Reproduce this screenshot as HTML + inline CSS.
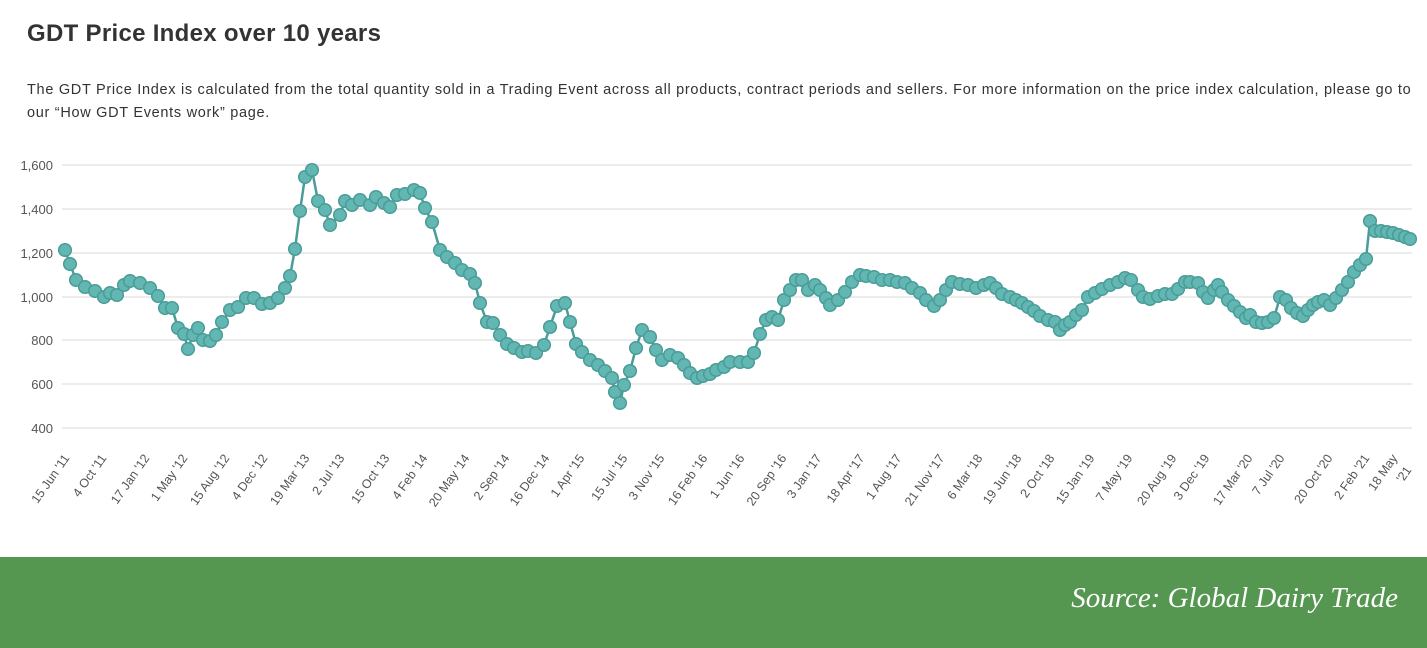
<!DOCTYPE html>
<html><head><meta charset="utf-8"><style>
body{margin:0;width:1427px;height:648px;background:#fff;overflow:hidden;font-family:"Liberation Sans",sans-serif;position:relative}
.t{position:absolute;left:27px;top:20px;font-size:24px;font-weight:bold;color:#333;letter-spacing:0.3px}
.d{position:absolute;left:27px;top:79px;width:1400px;font-size:14.5px;line-height:23px;color:#333;letter-spacing:0.7px;white-space:nowrap}
.f{position:absolute;left:0;top:557px;width:1427px;height:91px;background:#559650}
.f span{position:absolute;right:29px;top:25px;font-family:"Liberation Serif",serif;font-style:italic;font-size:29px;color:#fff}
svg{position:absolute;left:0;top:0}
</style></head><body>
<div class="t">GDT Price Index over 10 years</div>
<div class="d">The GDT Price Index is calculated from the total quantity sold in a Trading Event across all products, contract periods and sellers. For more information on the price index calculation, please go to<br>our “How GDT Events work” page.</div>
<svg width="1427" height="557" id="s"></svg>
<div class="f"><span>Source: Global Dairy Trade</span></div>
<script>
var s=document.getElementById('s'),h='';
var ys=[[1600,165],[1400,209],[1200,253],[1000,297],[800,340],[600,384],[400,428]];
ys.forEach(function(a){h+='<line x1="62" x2="1412" y1="'+a[1]+'" y2="'+a[1]+'" stroke="#e6e6e6" stroke-width="1.5"/>';
h+='<text x="53" y="'+(a[1]+5)+'" text-anchor="end" font-size="13" fill="#555">'+a[0].toLocaleString('en-US')+'</text>';});
var p=[65,250,70,264,76,280,85,287,95,291,104,297,110,293,117,295,124,285,130,281,140,283,150,288,158,296,165,308,172,308,178,328,184,334,188,349,193,335,198,328,203,340,210,341,216,335,222,322,230,310,238,307,246,298,254,298,262,304,270,303,278,298,285,288,290,276,295,249,300,211,305,177,312,170,318,201,325,210,330,225,340,215,345,201,352,205,360,200,370,205,376,197,384,203,390,207,397,195,405,194,414,190,420,193,425,208,432,222,440,250,447,257,455,263,462,270,470,274,475,283,480,303,487,322,493,323,500,335,507,344,514,348,522,352,528,351,536,353,544,345,550,327,557,306,565,303,570,322,576,344,582,352,590,360,598,365,605,371,612,378,615,392,620,403,624,385,630,371,636,348,642,330,650,337,656,350,662,360,670,355,678,358,684,365,690,373,697,378,703,376,710,374,716,370,724,367,730,362,740,362,748,362,754,353,760,334,766,320,772,317,778,320,784,300,790,290,796,280,802,280,808,290,815,285,820,290,826,298,830,305,838,300,845,292,852,282,860,275,866,276,874,277,882,280,890,280,897,282,905,283,912,288,920,293,926,300,934,306,940,300,946,290,952,282,960,284,968,285,976,288,984,285,990,283,996,288,1002,294,1010,297,1016,300,1022,303,1028,307,1034,311,1040,316,1048,320,1055,322,1060,330,1065,325,1070,322,1076,315,1082,310,1088,297,1095,293,1102,289,1110,285,1118,282,1125,278,1131,280,1138,290,1143,297,1150,299,1158,296,1165,294,1172,294,1178,289,1185,282,1190,282,1198,283,1203,292,1208,298,1214,290,1218,285,1222,292,1228,300,1234,306,1240,312,1246,318,1250,315,1256,322,1262,323,1268,322,1274,318,1280,297,1286,300,1291,308,1297,313,1303,316,1308,310,1313,305,1318,302,1324,300,1330,305,1336,298,1342,290,1348,282,1354,272,1360,265,1366,259,1370,221,1375,231,1381,231,1387,232,1393,233,1399,235,1405,237,1410,239];
var pts='';for(var i=0;i<p.length;i+=2)pts+=p[i]+','+p[i+1]+' ';
h+='<polyline points="'+pts+'" fill="none" stroke="#4a9c98" stroke-width="2.5"/>';
for(var i=0;i<p.length;i+=2)h+='<circle cx="'+p[i]+'" cy="'+p[i+1]+'" r="6.3" fill="#62b7b3" stroke="#4a9c98" stroke-width="1.5"/>';
var L=[[70,"15 Jun '11"],[107,"4 Oct '11"],[150,"17 Jan '12"],[188,"1 May '12"],[230,"15 Aug '12"],[268,"4 Dec '12"],[310,"19 Mar '13"],[345,"2 Jul '13"],[390,"15 Oct '13"],[428,"4 Feb '14"],[470,"20 May '14"],[510,"2 Sep '14"],[550,"16 Dec '14"],[585,"1 Apr '15"],[628,"15 Jul '15"],[665,"3 Nov '15"],[708,"16 Feb '16"],[745,"1 Jun '16"],[787,"20 Sep '16"],[822,"3 Jan '17"],[865,"18 Apr '17"],[902,"1 Aug '17"],[945,"21 Nov '17"],[983,"6 Mar '18"],[1022,"19 Jun '18"],[1055,"2 Oct '18"],[1095,"15 Jan '19"],[1133,"7 May '19"],[1177,"20 Aug '19"],[1210,"3 Dec '19"],[1253,"17 Mar '20"],[1285,"7 Jul '20"],[1333,"20 Oct '20"],[1370,"2 Feb '21"]];
L.forEach(function(a){h+='<text transform="translate('+a[0]+',458) rotate(-55)" text-anchor="end" font-size="12.5" fill="#555">'+a[1]+'</text>';});
h+='<text transform="translate(1398,458) rotate(-55)" text-anchor="end" font-size="12.5" fill="#555">18 May</text>';
h+='<text transform="translate(1412,470) rotate(-55)" text-anchor="end" font-size="12.5" fill="#555">\'21</text>';
s.innerHTML=h;
</script>
</body></html>
